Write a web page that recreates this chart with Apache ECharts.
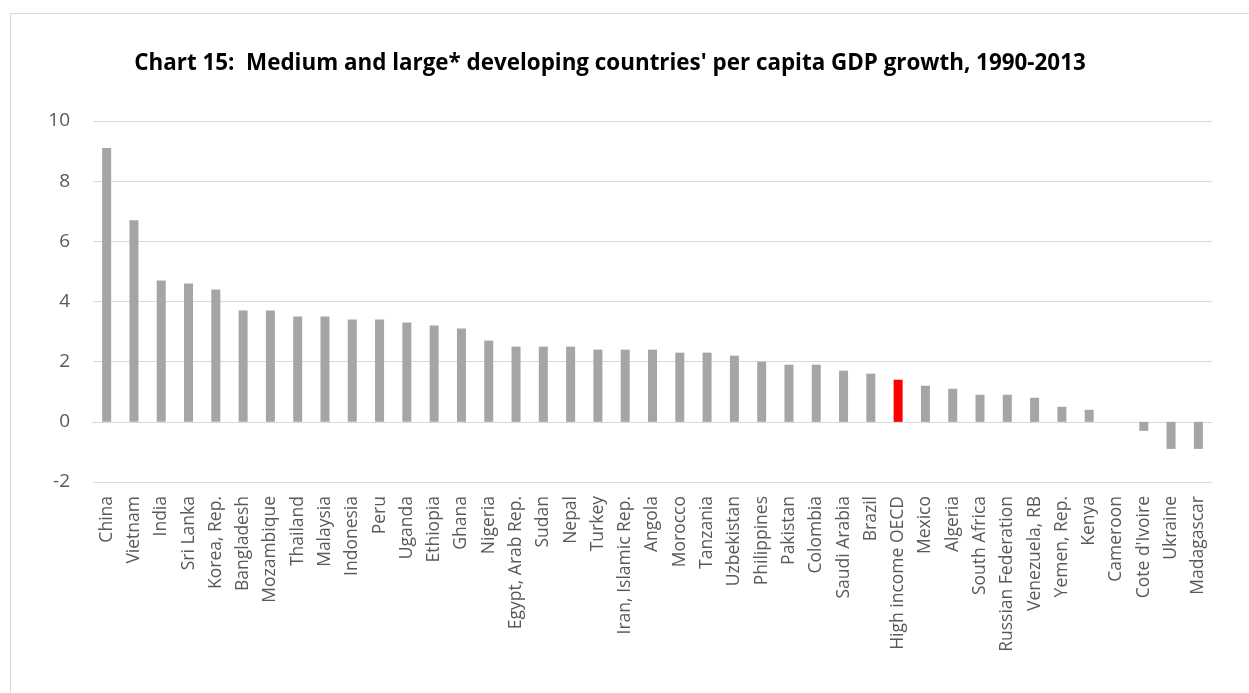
<!DOCTYPE html>
<html><head><meta charset="utf-8">
<script src="https://cdn.jsdelivr.net/npm/echarts@6/dist/echarts.min.js"></script>
<style>
html,body{margin:0;padding:0;background:#fff;}
#frame{position:absolute;left:10px;top:13px;width:1300px;height:800px;border-left:1px solid #d9d9d9;border-top:1px solid #d9d9d9;}
#c{position:absolute;left:0;top:0;width:1249px;height:693px;}
</style></head>
<body>
<div id="frame"></div>
<div id="c"></div>
<script>
const titleText = "Chart 15:  Medium and large* developing countries' per capita GDP growth, 1990-2013";
const categories = ["China","Vietnam","India","Sri Lanka","Korea, Rep.","Bangladesh","Mozambique","Thailand","Malaysia","Indonesia","Peru","Uganda","Ethiopia","Ghana","Nigeria","Egypt, Arab Rep.","Sudan","Nepal","Turkey","Iran, Islamic Rep.","Angola","Morocco","Tanzania","Uzbekistan","Philippines","Pakistan","Colombia","Saudi Arabia","Brazil","High income OECD","Mexico","Algeria","South Africa","Russian Federation","Venezuela, RB","Yemen, Rep.","Kenya","Cameroon","Cote d'Ivoire","Ukraine","Madagascar"];
const growth = [9.1,6.7,4.7,4.6,4.4,3.7,3.7,3.5,3.5,3.4,3.4,3.3,3.2,3.1,2.7,2.5,2.5,2.5,2.4,2.4,2.4,2.3,2.3,2.2,2.0,1.9,1.9,1.7,1.6,1.4,1.2,1.1,0.9,0.9,0.8,0.5,0.4,0.0,-0.3,-0.9,-0.9];
const highlight = "High income OECD";
const yTicks = {min:-2, max:10, interval:2};

const chart = echarts.init(document.getElementById('c'));
const font = "'Open Sans', 'Liberation Sans', sans-serif";
chart.setOption({
  animation:false,
  title:{text:titleText,left:605,top:48,textAlign:'center',
    textStyle:{fontFamily:font,fontWeight:'bold',fontSize:22.4,color:'#000'}},
  grid:{left:93,right:37,top:121,bottom:211,containLabel:false},
  xAxis:[{
    type:'category',data:categories,position:'bottom',
    axisLine:{show:false,onZero:false},axisTick:{show:false},
    axisLabel:{rotate:90,interval:0,margin:14,fontFamily:font,fontSize:17.5,color:'#595959'}
  },{
    type:'category',data:categories,
    axisLine:{show:true,onZero:true,lineStyle:{color:'#d9d9d9',width:1}},
    axisTick:{show:false},
    axisLabel:{show:false}
  }],
  yAxis:{type:'value',min:yTicks.min,max:yTicks.max,interval:yTicks.interval,
    axisLine:{show:false},axisTick:{show:false},
    axisLabel:{margin:23,fontFamily:font,fontSize:19,color:'#595959'},
    splitLine:{lineStyle:{color:'#d9d9d9',width:1}}},
  series:[{type:'bar',xAxisIndex:0,barWidth:9,
    data:growth.map((v,i)=>({value:v,itemStyle:{color:categories[i]===highlight?'#ff0000':'#a5a5a5'}}))}]
});
</script>
</body></html>
